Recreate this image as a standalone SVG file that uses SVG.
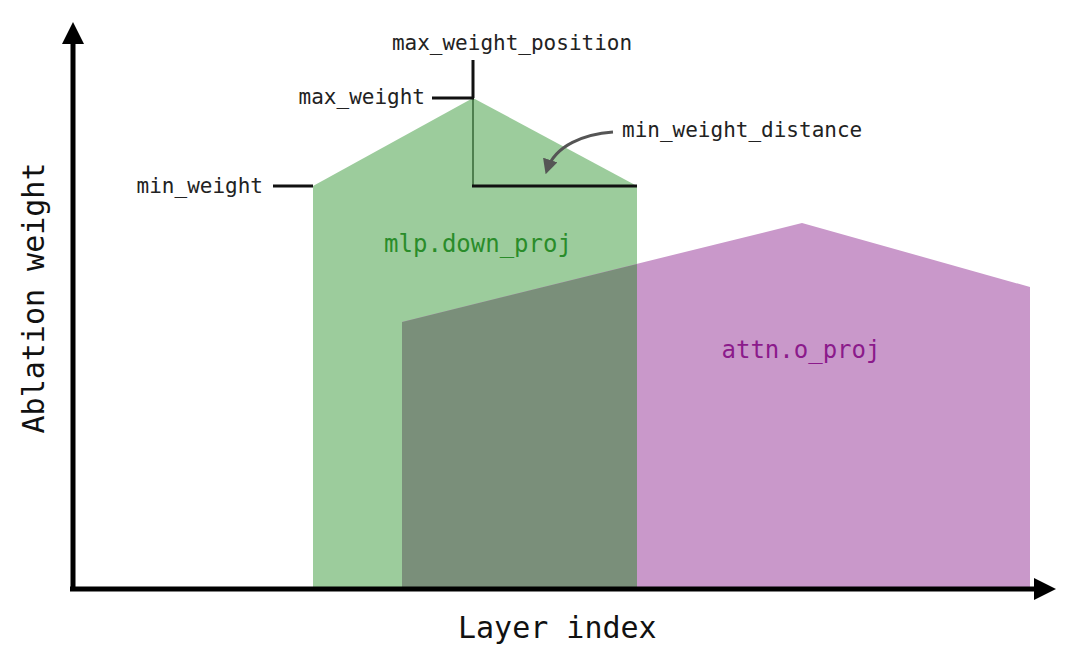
<svg xmlns="http://www.w3.org/2000/svg" width="1080" height="657" viewBox="0 0 1080 657">
<style>
.lbl{font-family:"DejaVu Sans Mono","Liberation Mono",monospace;font-size:21px;fill:#222}
.big{font-family:"DejaVu Sans Mono","Liberation Mono",monospace;font-size:30px;fill:#111}
.ln{stroke:#111;stroke-width:3;fill:none}
</style>
<defs>
<marker id="ah" viewBox="0 0 10 10" refX="7" refY="5" markerWidth="5" markerHeight="5" orient="auto" markerUnits="strokeWidth">
<path d="M0,0 L10,5 L0,10 Z" fill="#555"/>
</marker>
</defs>
<rect width="1080" height="657" fill="#fff"/>
<g id="mlp">
<polygon points="313,587 313,186 473,98 637,186 637,587" fill="#9ccc9c"/>
<text x="478" y="252" text-anchor="middle" style="font-family:'DejaVu Sans Mono','Liberation Mono',monospace;font-size:24px;fill:#2a8c2a">mlp.down_proj</text>
</g>
<g id="attn">
<polygon points="402,587 402,322 802,223 1030,287 1030,587" fill="#c998ca"/>
<polygon points="402,587 402,322 637,264 637,587" fill="#7a8f7a"/>
<text x="801" y="358" text-anchor="middle" style="font-family:'DejaVu Sans Mono','Liberation Mono',monospace;font-size:24px;fill:#8b1a8b">attn.o_proj</text>
</g>
<g id="axes">
<line x1="73" y1="591" x2="73" y2="40" stroke="#000" stroke-width="5"/>
<polygon points="73,22 62,44 84,44" fill="#000"/>
<line x1="70" y1="589" x2="1037" y2="589" stroke="#000" stroke-width="5"/>
<polygon points="1056,589 1034,578 1034,600" fill="#000"/>
<text class="big" x="458" y="638">Layer index</text>
<text class="big" transform="translate(44,298) rotate(-90)" text-anchor="middle">Ablation weight</text>
</g>
<g id="connectors">
<line class="ln" x1="473" y1="60" x2="473" y2="98"/>
<line x1="473" y1="98" x2="473" y2="186" stroke="#4f7f4f" stroke-width="2"/>
<line class="ln" x1="432" y1="98" x2="474" y2="98"/>
<line class="ln" x1="273" y1="186" x2="313" y2="186"/>
<line class="ln" x1="472" y1="186" x2="637" y2="186"/>
<path d="M613,132 C585,134 555,145 547,170" stroke="#555" stroke-width="3" fill="none" marker-end="url(#ah)"/>
</g>
<g id="labels">
<text class="lbl" x="512" y="50" text-anchor="middle">max_weight_position</text>
<text class="lbl" x="425" y="104" text-anchor="end">max_weight</text>
<text class="lbl" x="263" y="193" text-anchor="end">min_weight</text>
<text class="lbl" x="622" y="137">min_weight_distance</text>
</g>
</svg>
